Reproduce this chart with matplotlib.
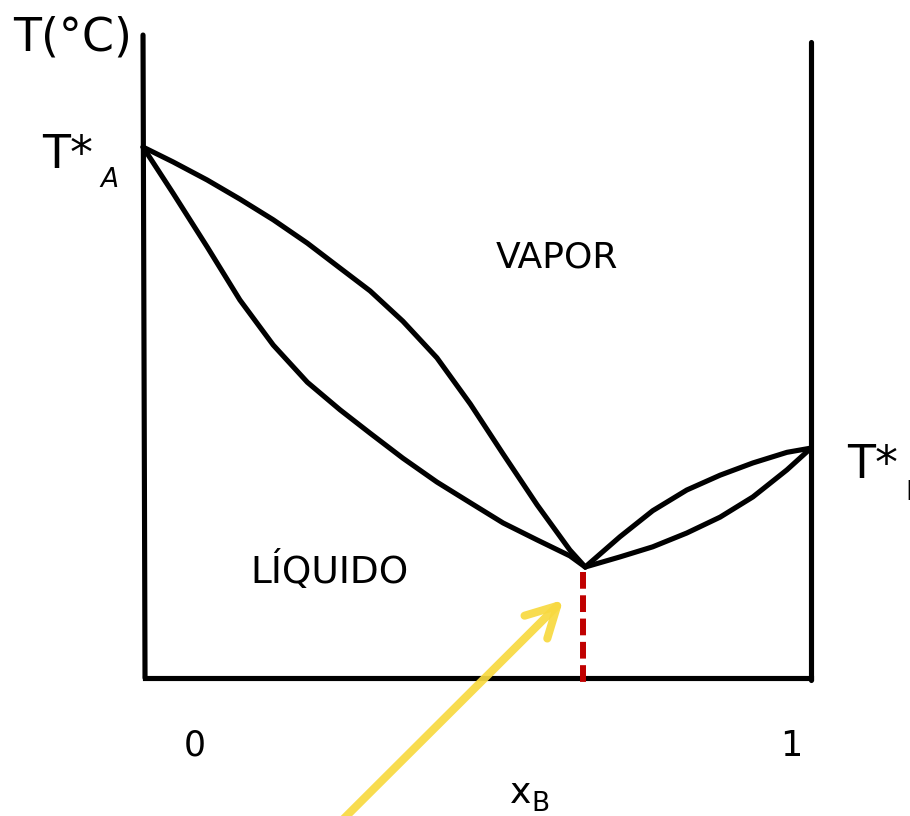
import matplotlib
matplotlib.use("Agg")
import matplotlib.pyplot as plt

# mole fraction of B and temperature (arbitrary °C scale, T*A = 100)
x_vap_left = [0.000, 0.045, 0.096, 0.145, 0.195, 0.246, 0.295, 0.340, 0.389, 0.440, 0.490, 0.539, 0.590, 0.639, 0.662]
T_vap_left = [100.0, 97.2, 93.8, 90.2, 86.3, 81.9, 77.2, 72.9, 67.2, 60.3, 51.6, 42.2, 32.6, 24.1, 20.9]

x_liq_left = [0.000, 0.045, 0.096, 0.145, 0.195, 0.246, 0.295, 0.340, 0.389, 0.440, 0.490, 0.539, 0.590, 0.639, 0.662]
T_liq_left = [100.0, 91.3, 81.2, 71.2, 62.7, 55.7, 50.5, 46.1, 41.4, 36.9, 33.0, 29.2, 26.0, 23.0, 20.9]

x_vap_right = [0.662, 0.714, 0.763, 0.814, 0.864, 0.913, 0.964, 1.0]
T_vap_right = [20.9, 26.6, 31.5, 35.4, 38.2, 40.5, 42.5, 43.3]

x_liq_right = [0.662, 0.714, 0.763, 0.814, 0.864, 0.913, 0.964, 1.0]
T_liq_right = [20.9, 22.8, 24.7, 27.3, 30.3, 34.1, 39.2, 43.3]

x_azeo = 0.662
T_azeo = 20.9

fig = plt.figure(figsize=(9.1, 8.16), dpi=100)
ax = fig.add_axes([0, 0, 1, 1])
ax.set_xlim(-0.2141, 1.1482)
ax.set_ylim(-26.0, 127.7)
ax.axis("off")

lw = 3.7
kw = dict(color="black", lw=lw, solid_capstyle="round", solid_joinstyle="round")

# frame
ax.plot([0.0, 0.003], [121.1, 0.0], **kw)
ax.plot([1.0, 1.0], [119.8, -0.3], **kw)
ax.plot([0.003, 1.0], [0.0, 0.0], color="black", lw=lw)

# dew / bubble curves
ax.plot(x_vap_left, T_vap_left, **kw)
ax.plot(x_liq_left, T_liq_left, **kw)
ax.plot(x_vap_right, T_vap_right, **kw)
ax.plot(x_liq_right, T_liq_right, **kw)

# azeotrope composition
ax.plot([x_azeo - 0.003, x_azeo - 0.003], [T_azeo - 1.0, -1.3], color="#C00000", lw=4.3,
        dashes=(2.8, 1.1), solid_capstyle="butt", dash_capstyle="butt")

# yellow pointer
ax.annotate("", xy=(0.629, 14.7), xytext=(0.287, -28.2),
            arrowprops=dict(arrowstyle="->,head_length=1.08,head_width=0.58",
                            color="#F8D940", lw=5.8, alpha=0.92, mutation_scale=20,
                            shrinkA=0, shrinkB=0, capstyle="round", joinstyle="round"),
            annotation_clip=False)

font = "DejaVu Sans"
ax.text(-0.106, 120.5, "T(°C)", fontsize=33, ha="center", va="center", family=font)
ax.text(-0.151, 96.0, "T*", fontsize=33, ha="left", va="baseline", family=font)
ax.text(-0.064, 92.5, "A", fontsize=19, style="italic", ha="left", va="baseline", family=font)
ax.text(1.054, 37.7, "T*", fontsize=33, ha="left", va="baseline", family=font)
ax.text(1.141, 33.5, "B", fontsize=19, ha="left", va="baseline", family=font)
ax.text(0.620, 77.4, "VAPOR", fontsize=26, ha="center", va="baseline", family=font)
ax.text(0.279, 17.9, "LÍQUIDO", fontsize=27, ha="center", va="baseline", family=font)
ax.text(0.078, -12.8, "0", fontsize=25, ha="center", va="center", family=font)
ax.text(0.970, -12.8, "1", fontsize=25, ha="center", va="center", family=font)
ax.text(0.549, -23.6, "x", fontsize=26, ha="left", va="baseline", family=font)
ax.text(0.581, -25.0, "B", fontsize=19, ha="left", va="baseline", family=font)

fig.savefig("out.png", dpi=100)
